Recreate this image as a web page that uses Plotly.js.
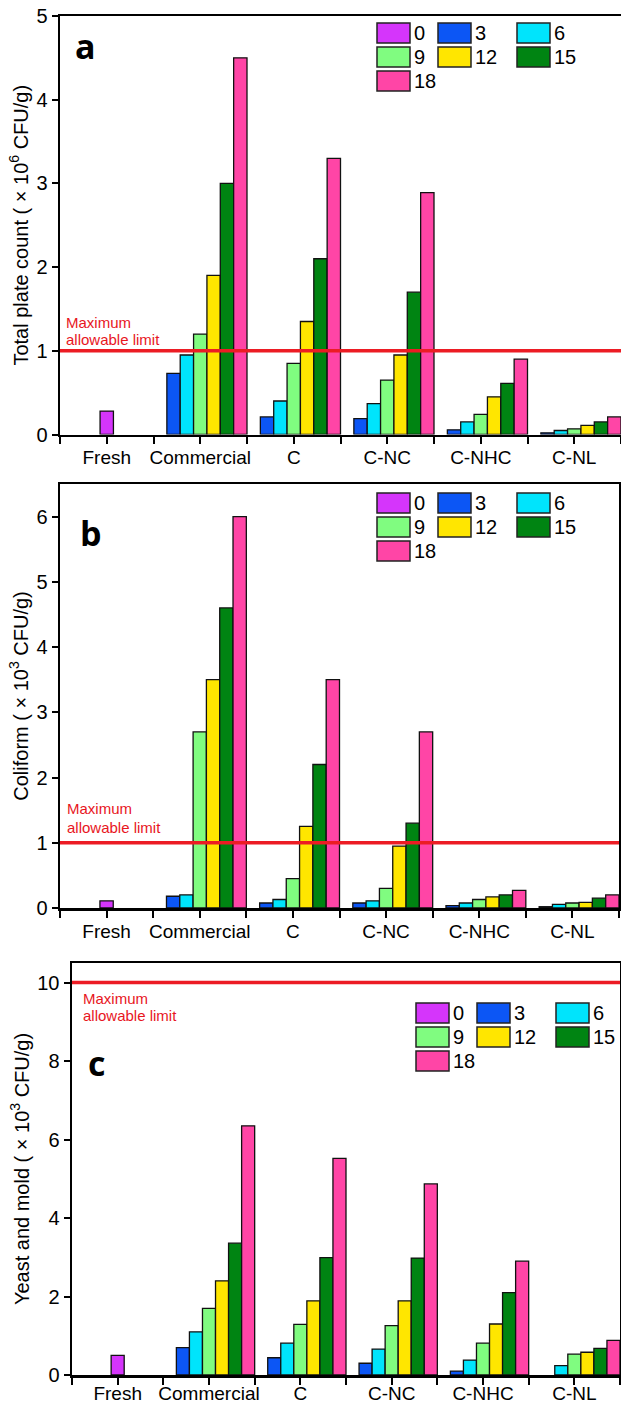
<!DOCTYPE html>
<html><head><meta charset="utf-8">
<script src="https://cdn.plot.ly/plotly-3.0.1.min.js"></script>
<style>html,body{margin:0;padding:0;background:#fff}#chart{width:621px;height:1407px}</style>
</head><body><div id="chart"></div>
<script>
// ---------------- data ----------------
const categories = ['Fresh', 'Commercial', 'C', 'C-NC', 'C-NHC', 'C-NL'];
const storageDays = ['0', '3', '6', '9', '12', '15', '18'];
const dayColors = ['#d535fb', '#0c56f5', '#00e4fc', '#80fc80', '#ffe600', '#008412', '#ff45a6'];

// rows = storage day (0,3,6,...,18); columns = categories
const totalPlateCount = [
  [0.28, null, null, null, null, null],
  [null, 0.73, 0.21, 0.19, 0.056, 0.02],
  [null, 0.95, 0.40, 0.37, 0.15, 0.048],
  [null, 1.20, 0.85, 0.65, 0.24, 0.068],
  [null, 1.90, 1.35, 0.95, 0.45, 0.11],
  [null, 3.00, 2.10, 1.70, 0.61, 0.15],
  [null, 4.50, 3.30, 2.89, 0.90, 0.21]
];
const coliform = [
  [0.11, null, null, null, null, null],
  [null, 0.18, 0.077, 0.077, 0.036, 0.02],
  [null, 0.20, 0.13, 0.11, 0.077, 0.056],
  [null, 2.70, 0.45, 0.30, 0.13, 0.077],
  [null, 3.50, 1.25, 0.95, 0.17, 0.087],
  [null, 4.60, 2.20, 1.30, 0.20, 0.15],
  [null, 6.00, 3.50, 2.70, 0.27, 0.20]
];
const yeastMold = [
  [0.50, null, null, null, null, null],
  [null, 0.70, 0.44, 0.30, 0.10, null],
  [null, 1.10, 0.81, 0.66, 0.38, 0.24],
  [null, 1.70, 1.29, 1.26, 0.81, 0.53],
  [null, 2.40, 1.89, 1.89, 1.30, 0.58],
  [null, 3.36, 2.99, 2.98, 2.10, 0.68],
  [null, 6.35, 5.52, 4.87, 2.90, 0.88]
];
const limits = [1, 1, 10];
const yTitles = [
  'Total plate count ( × 10<sup>6</sup> CFU/g)',
  'Coliform ( × 10<sup>3</sup> CFU/g)',
  'Yeast and mold ( × 10<sup>3</sup> CFU/g)'
];
const panelLetters = ['a', 'b', 'c'];
const limitLabel = ['Maximum', 'allowable limit'];

// ---------------- layout helpers ----------------
const W = 621, H = 1407;
const px = v => v / W;
const py = v => 1 - v / H;
const FONT = 'Liberation Sans, Arial, sans-serif';

const panelGeom = [
  {left: 60, right: 621, top: 16, bottom: 434.5, range: [0, 5], dtick: 1, xlabStand: -3, titleStand: 3,
   letter: [73, 46], legend: [377, 23], limitTxt: [64, 322, 340]},
  {left: 60, right: 619, top: 484, bottom: 908, range: [0, 6.5], dtick: 1, xlabStand: -2, titleStand: 3,
   letter: [78, 533], legend: [377, 493], limitTxt: [65, 808, 828]},
  {left: 72, right: 620, top: 963, bottom: 1375, range: [0, 10.5], dtick: 2, xlabStand: -7, titleStand: 3,
   letter: [86, 1063], legend: [416, 1003], limitTxt: [81, 998, 1015]}
];
const datasets = [totalPlateCount, coliform, yeastMold];

const xIdx = categories.map((_, i) => i);
const nDays = storageDays.length;
const slot = 1 / nDays;

const traces = [];
const layout = {
  width: W, height: H,
  margin: {l: 0, r: 0, t: 0, b: 0},
  paper_bgcolor: '#fff', plot_bgcolor: '#fff',
  barmode: 'overlay',
  showlegend: false,
  font: {family: FONT, color: '#000'},
  shapes: [], annotations: []
};

const legendCols = [0, 61, 140];
const sw = 33, sh = 20, rowPitch = 24;

panelGeom.forEach((g, p) => {
  const sfx = p === 0 ? '' : String(p + 1);
  const xa = 'x' + sfx, ya = 'y' + sfx;
  const data = datasets[p];
  data.forEach((row, d) => {
    traces.push({
      type: 'bar', x: xIdx, y: row, xaxis: xa, yaxis: ya,
      name: storageDays[d],
      width: slot,
      offset: d === 0 ? -slot / 2 : -0.5 + d * slot,
      marker: {color: dayColors[d], line: {color: '#111', width: 1.3}},
      hoverinfo: 'x+y+name'
    });
  });
  const boundaries = categories.map((_, i) => i - 0.5).concat([categories.length - 0.5]);
  layout['xaxis' + sfx] = {
    domain: [px(g.left), px(g.right)], anchor: ya,
    range: [-0.5, categories.length - 0.5], type: 'linear',
    tickmode: 'array', tickvals: xIdx, ticktext: categories,
    ticks: 'outside', ticklen: 7, tickwidth: 2, tickcolor: '#000',
    ticklabelstandoff: g.xlabStand,
    minor: {tickmode: 'array', tickvals: boundaries, ticks: 'outside', ticklen: 7, tickwidth: 2, tickcolor: '#000'},
    showline: true, linecolor: '#000', linewidth: 2.5, mirror: true,
    showgrid: false, zeroline: false,
    tickfont: {family: FONT, size: 19, color: '#000'}
  };
  layout['yaxis' + sfx] = {
    domain: [py(g.bottom), py(g.top)], anchor: xa,
    range: g.range, dtick: g.dtick, tick0: 0,
    ticks: 'outside', ticklen: 6, tickwidth: 2, tickcolor: '#000',
    showline: true, linecolor: '#000', linewidth: 2.5, mirror: true,
    showgrid: false, zeroline: false,
    tickfont: {family: FONT, size: 20, color: '#000'},
    title: {text: yTitles[p], font: {family: FONT, size: 20, color: '#000'}, standoff: g.titleStand}
  };
  // limit line
  layout.shapes.push({
    type: 'line', xref: xa + ' domain', yref: ya, x0: 0, x1: 1, y0: limits[p], y1: limits[p],
    line: {color: '#ec1c24', width: 3.5}, layer: 'above'
  });
  // limit label
  limitLabel.forEach((t, k) => {
    layout.annotations.push({
      xref: 'paper', yref: 'paper', x: px(g.limitTxt[0]), y: py(g.limitTxt[1 + k]),
      xanchor: 'left', yanchor: 'middle', showarrow: false, text: t,
      font: {family: FONT, size: 15, color: '#e8161e'}
    });
  });
  // panel letter
  layout.annotations.push({
    xref: 'paper', yref: 'paper', x: px(g.letter[0]), y: py(g.letter[1]),
    xanchor: 'left', yanchor: 'middle', showarrow: false, text: '<b>' + panelLetters[p] + '</b>',
    font: {family: 'Open Sans, sans-serif', size: 34, color: '#000'}
  });
  // legend (3 columns)
  storageDays.forEach((dname, d) => {
    const col = d % 3, row = Math.floor(d / 3);
    const x0 = g.legend[0] + legendCols[col];
    const y0 = g.legend[1] + row * rowPitch;
    layout.shapes.push({
      type: 'rect', xref: 'paper', yref: 'paper',
      x0: px(x0), x1: px(x0 + sw), y0: py(y0), y1: py(y0 + sh),
      fillcolor: dayColors[d], line: {color: '#222', width: 1.5}, layer: 'above'
    });
    layout.annotations.push({
      xref: 'paper', yref: 'paper', x: px(x0 + sw + 2), y: py(y0 + sh / 2),
      xanchor: 'left', yanchor: 'middle', showarrow: false, text: dname,
      font: {family: FONT, size: 20, color: '#000'}
    });
  });
});

Plotly.newPlot('chart', traces, layout, {displayModeBar: false, staticPlot: true});
</script>
</body></html>
